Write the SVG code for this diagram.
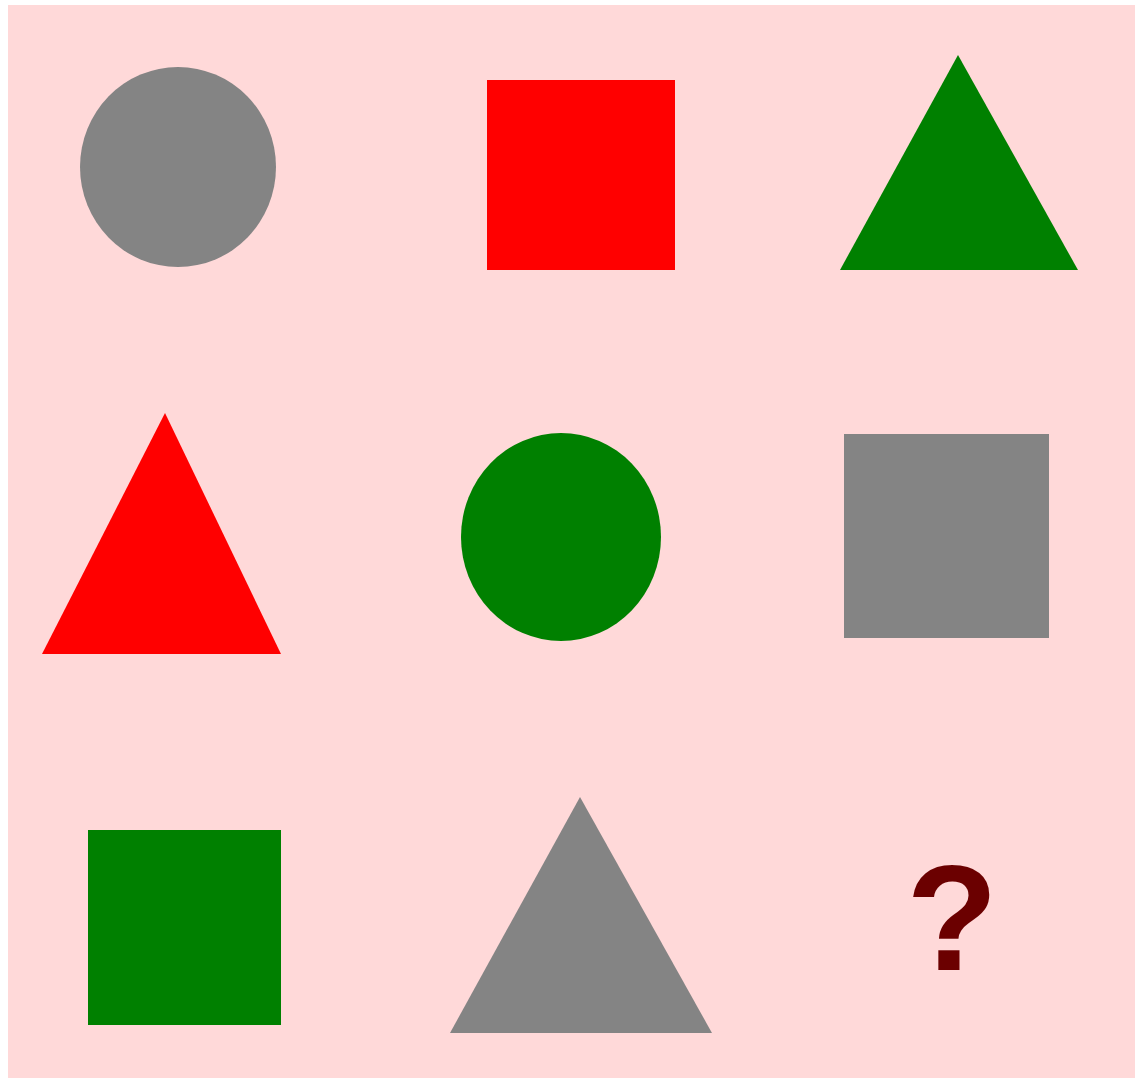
<svg xmlns="http://www.w3.org/2000/svg" width="1135" height="1078" viewBox="0 0 1135 1078">
<style>
.gray{fill:#848484}.red{fill:#ff0000}.green{fill:#008000}
.q{font-family:"Liberation Sans",Arial,sans-serif;font-weight:bold;font-size:150px;fill:#6b0000}
</style>
<rect x="0" y="0" width="1135" height="1078" fill="#ffffff"/>
<rect x="8" y="5" width="1127" height="1073" fill="#ffd9d9"/>
<g id="r1c1"><ellipse class="gray" cx="178" cy="167" rx="98" ry="100"/></g>
<g id="r1c2"><rect class="red" x="487" y="80" width="188" height="190"/></g>
<g id="r1c3"><polygon class="green" points="958,55 840,270 1078,270"/></g>
<g id="r2c1"><polygon class="red" points="165,413 42,654 281,654"/></g>
<g id="r2c2"><ellipse class="green" cx="561" cy="537" rx="100" ry="104"/></g>
<g id="r2c3"><rect class="gray" x="844" y="434" width="205" height="204"/></g>
<g id="r3c1"><rect class="green" x="88" y="830" width="193" height="195"/></g>
<g id="r3c2"><polygon class="gray" points="580,797 450,1033 712,1033"/></g>
<g id="r3c3"><text class="q" x="952" y="970" text-anchor="middle">?</text></g>
<g id="connectors"/>
</svg>
